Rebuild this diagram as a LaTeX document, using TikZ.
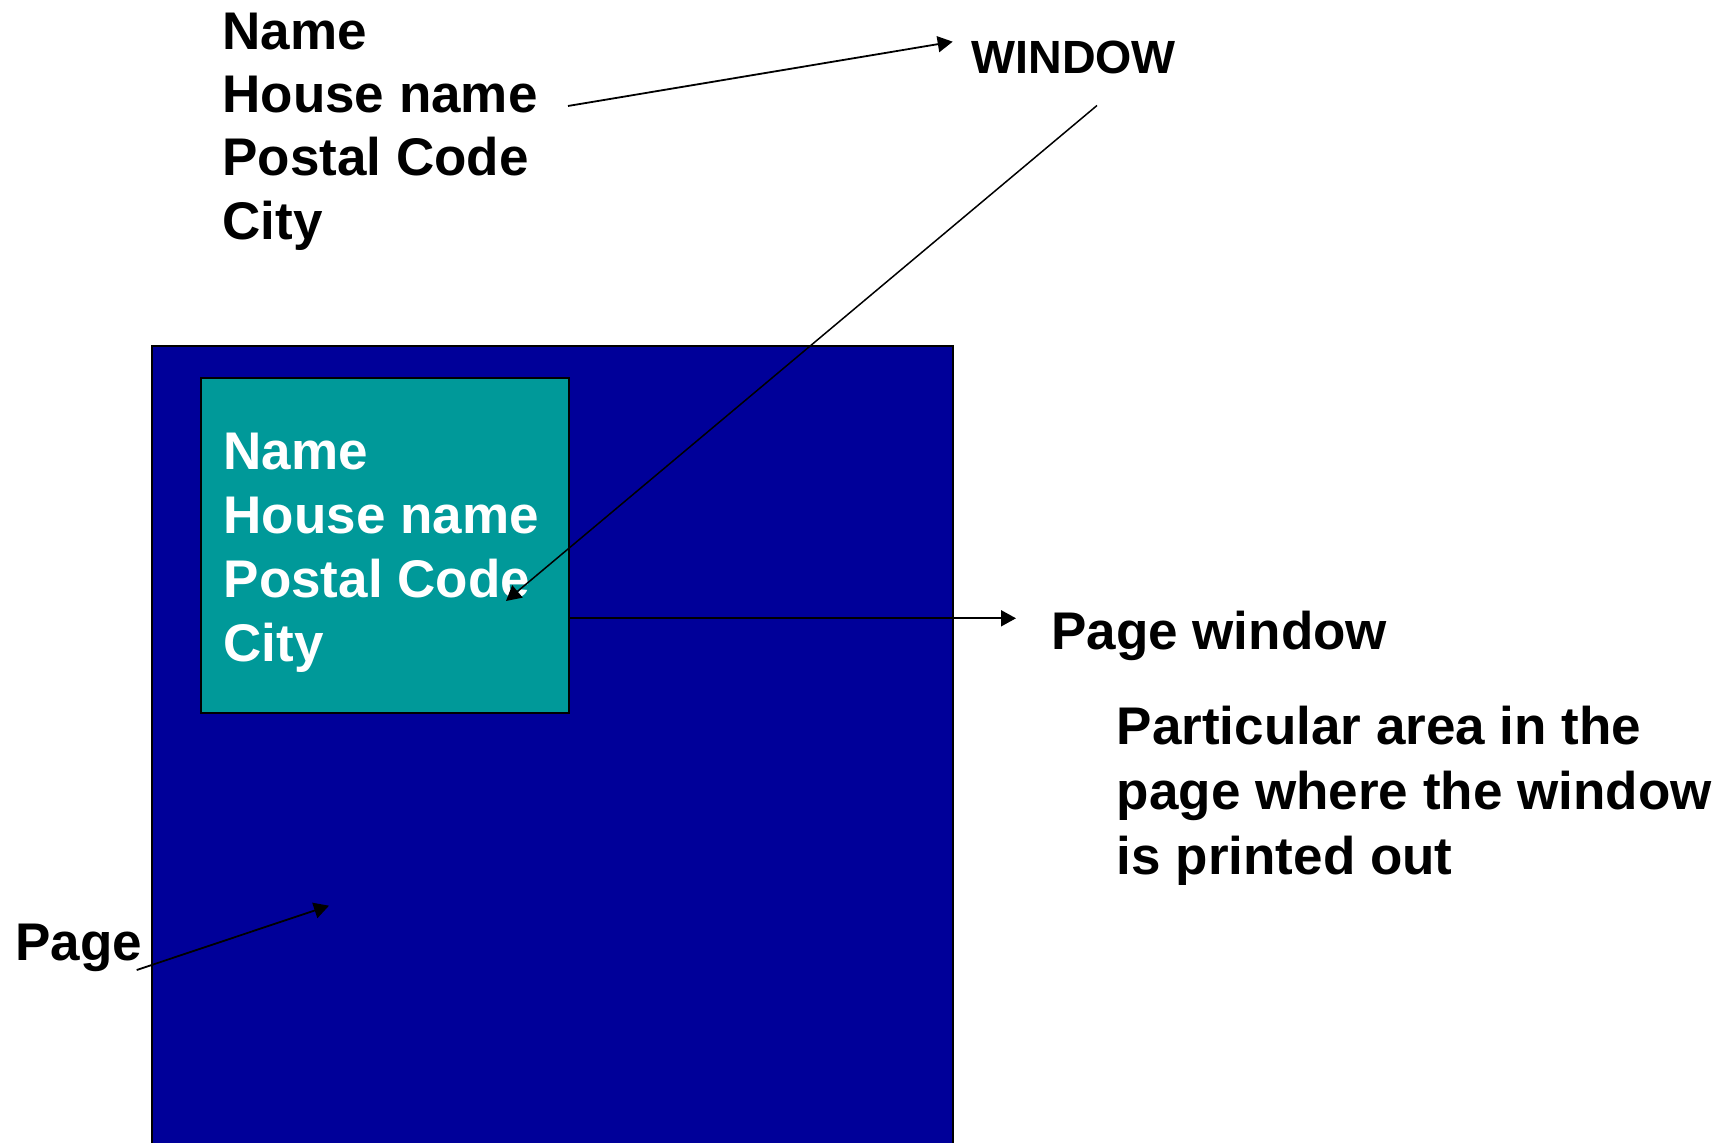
\documentclass[tikz,border=0pt]{standalone}
\usepackage{fontspec}
\setmainfont{Liberation Sans}
\usetikzlibrary{arrows.meta}
\definecolor{pageblue}{HTML}{000099}
\definecolor{winteal}{HTML}{009999}
\begin{document}
\begin{tikzpicture}[x=0.5pt,y=-0.5pt,
  lbl/.style={inner sep=0pt, anchor=base west, font=\fontsize{26.5}{32}\selectfont\bfseries},
  wlbl/.style={lbl, text=white},
  arr/.style={-{Triangle[length=7.5pt,width=8pt]}, line width=0.9pt},
  box/.style={draw=black, line width=1pt, anchor=north west, inner sep=0pt, outer sep=0pt}]
\useasboundingbox (0,0) rectangle (1724,1143);
% page and window boxes
\node[box, fill=pageblue, minimum width=400.4pt, minimum height=405pt] (page) at (152.3,345.7) {};
\node[box, fill=winteal, minimum width=184.2pt, minimum height=167.5pt] (win) at (200.7,378.3) {};
% black address
\node[lbl] (n1) at (222,49.3) {Name};
\node[lbl] (n2) at (222,112.7) {House name};
\node[lbl] (n3) at (222,176) {Postal Code};
\node[lbl] (n4) at (222,240) {City};
% white address
\node[wlbl] (w1) at (223.3,470) {Name};
\node[wlbl] (w2) at (223.3,534) {House name};
\node[wlbl] (w3) at (223.3,597.7) {Postal Code};
\node[wlbl] (w4) at (223.3,661.7) {City};
% labels
\node[lbl, font=\fontsize{23.3}{28}\selectfont\bfseries] (window) at (971,73.3) {WINDOW};
\node[lbl] (pw) at (1051,649.3) {Page window};
\node[lbl] (d1) at (1116.5,745) {Particular area in the};
\node[lbl] (d2) at (1116.5,809.5) {page where the window};
\node[lbl] (d3) at (1116.5,874) {is printed out};
\node[lbl] (pg) at (15,960) {Page};
% connectors
\coordinate (hstart) at (568,106);
\coordinate (htip) at (952.7,41.7);
\coordinate (wstart) at (1097,105.5);
\coordinate (wtip) at (506,601);
\coordinate (pwtip) at (1016,618.3);
\coordinate (pstart) at (136.7,970);
\coordinate (ptip) at (329,905.7);
\draw[arr] (hstart) -- (htip);
\draw[arr, line width=0.75pt] (wstart) -- (wtip);
\draw[arr] (win.east |- pwtip) -- (pwtip);
\draw[arr] (pstart) -- (ptip);
\end{tikzpicture}
\end{document}
